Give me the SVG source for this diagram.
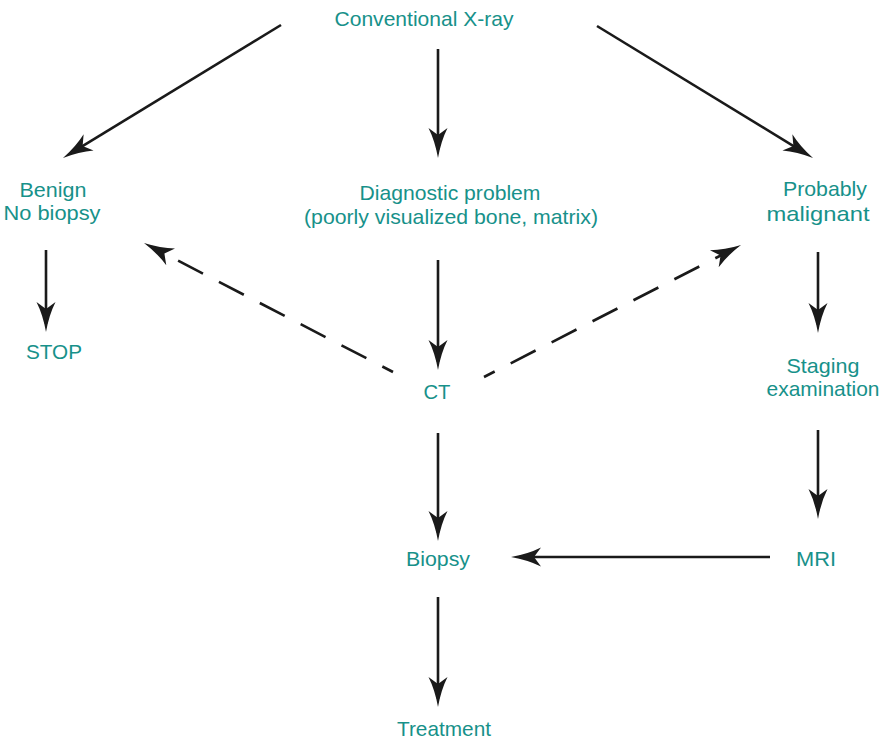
<svg xmlns="http://www.w3.org/2000/svg" width="886" height="740" viewBox="0 0 886 740">
<style>
text{font-family:"Liberation Sans",Arial,sans-serif;font-size:21px;fill:#17918a;text-anchor:middle}
.c{stroke:#1a1a1a;stroke-width:2.6;fill:none;marker-end:url(#ah)}
.d{stroke-dasharray:28 18;stroke-dashoffset:16}
</style>
<defs>
<marker id="ah" markerUnits="userSpaceOnUse" viewBox="-2 -11 34 22" markerWidth="34" markerHeight="22" refX="22" refY="0" orient="auto">
<path d="M30,0 Q13,-3 0,-9.5 L7,0 L0,9.5 Q13,3 30,0 Z" fill="#1a1a1a"/>
</marker>
</defs>
<rect width="886" height="740" fill="#fff"/>
<g id="connectors">
<line class="c" x1="281" y1="25" x2="69.8" y2="153.8"/>
<line class="c" x1="438" y1="49" x2="438" y2="150"/>
<line class="c" x1="597" y1="26" x2="806.2" y2="153.8"/>
<line class="c" x1="46" y1="250" x2="46" y2="324"/>
<line class="c" x1="818" y1="252" x2="818" y2="325"/>
<line class="c" x1="438" y1="260" x2="438" y2="362"/>
<line class="c d" x1="393" y1="372" x2="151.1" y2="246.7"/>
<line class="c d" x1="484" y1="377" x2="733.9" y2="248.7"/>
<line class="c" x1="438" y1="433" x2="438" y2="533"/>
<line class="c" x1="818" y1="430" x2="818" y2="511"/>
<line class="c" x1="770" y1="557" x2="519" y2="557"/>
<line class="c" x1="438" y1="597" x2="438" y2="699"/>
</g>
<g id="xray"><text x="424" y="26" textLength="179" lengthAdjust="spacingAndGlyphs">Conventional X-ray</text></g>
<g id="benign"><text x="53" y="197" textLength="67" lengthAdjust="spacingAndGlyphs">Benign</text><text x="52" y="220" textLength="97" lengthAdjust="spacingAndGlyphs">No biopsy</text></g>
<g id="diagnostic"><text x="450" y="200" textLength="181" lengthAdjust="spacingAndGlyphs">Diagnostic problem</text><text x="451" y="224" textLength="294" lengthAdjust="spacingAndGlyphs">(poorly visualized bone, matrix)</text></g>
<g id="malignant"><text x="825" y="196" textLength="84" lengthAdjust="spacingAndGlyphs">Probably</text><text x="818" y="221" textLength="103" lengthAdjust="spacingAndGlyphs">malignant</text></g>
<g id="stop"><text x="54" y="359" textLength="56" lengthAdjust="spacingAndGlyphs">STOP</text></g>
<g id="ct"><text x="437" y="399" textLength="27" lengthAdjust="spacingAndGlyphs">CT</text></g>
<g id="staging"><text x="823" y="373" textLength="73" lengthAdjust="spacingAndGlyphs">Staging</text><text x="823" y="396" textLength="113" lengthAdjust="spacingAndGlyphs">examination</text></g>
<g id="biopsy"><text x="438" y="566" textLength="64" lengthAdjust="spacingAndGlyphs">Biopsy</text></g>
<g id="mri"><text x="816" y="566" textLength="40" lengthAdjust="spacingAndGlyphs">MRI</text></g>
<g id="treatment"><text x="444" y="736" textLength="94" lengthAdjust="spacingAndGlyphs">Treatment</text></g>
</svg>
